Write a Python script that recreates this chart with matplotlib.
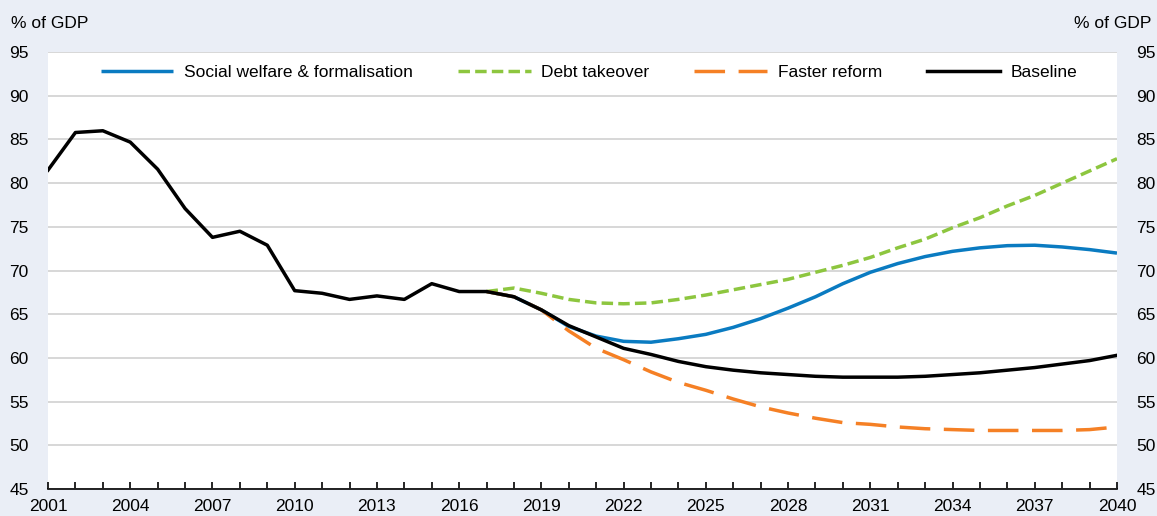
import numpy as np
import matplotlib.pyplot as plt

# ── DATA ───────────────────────────────────────────────
years_hist = list(range(2001, 2041))
baseline = [81.5, 85.8, 86.0, 84.7, 81.6, 77.1, 73.8, 74.5, 72.9, 67.7,
            67.4, 66.7, 67.1, 66.7, 68.5, 67.6, 67.6, 67.0, 65.5, 63.7,
            62.4, 61.1, 60.4, 59.6, 59.0, 58.6, 58.3, 58.1, 57.9, 57.8,
            57.8, 57.8, 57.9, 58.1, 58.3, 58.6, 58.9, 59.3, 59.7, 60.3]

years_scen = list(range(2017, 2041))
social = [67.6, 67.0, 65.5, 63.6, 62.5, 61.9, 61.8, 62.2, 62.7, 63.5,
          64.5, 65.7, 67.0, 68.5, 69.8, 70.8, 71.6, 72.2, 72.6, 72.85,
          72.9, 72.7, 72.4, 72.0]
debt = [67.6, 68.0, 67.4, 66.7, 66.3, 66.2, 66.3, 66.7, 67.2, 67.8,
        68.4, 69.0, 69.8, 70.6, 71.5, 72.6, 73.6, 74.9, 76.05, 77.4,
        78.6, 80.0, 81.4, 82.8]
faster = [67.6, 67.0, 65.5, 63.1, 61.1, 59.8, 58.4, 57.2, 56.3, 55.3,
          54.4, 53.7, 53.1, 52.6, 52.4, 52.1, 51.9, 51.8, 51.7, 51.7,
          51.7, 51.7, 51.8, 52.1]

xticks = list(range(2001, 2041, 3))
yticks = list(range(45, 100, 5))

# ── STYLE ──────────────────────────────────────────────
plt.rcParams["font.family"] = ["Liberation Sans", "DejaVu Sans"]
BG = "#EAEEF6"
BLUE = "#0A7BC1"
GREEN = "#8DC63F"
ORANGE = "#F58025"
FS = 12.5

fig = plt.figure(figsize=(11.57, 5.16), dpi=100, facecolor=BG)
ax = fig.add_axes([0.0415, 0.0523, 0.9239, 0.8467])
ax.set_facecolor("white")

lw = 2.5
ax.plot(years_scen, social, color=BLUE, lw=lw, label="Social welfare & formalisation",
        solid_capstyle="butt")
ax.plot(years_scen, debt, color=GREEN, lw=lw, dashes=(3.3, 1.5), label="Debt takeover")
ax.plot(years_scen, faster, color=ORANGE, lw=lw, dashes=(8.8, 3.9), label="Faster reform")
ax.plot(years_hist, baseline, color="black", lw=lw, label="Baseline")

ax.set_xlim(2001, 2040)
ax.set_ylim(45, 95)
ax.set_yticks(yticks)
ax.set_xticks(xticks)
ax.set_xticks(range(2001, 2041), minor=True)
ax.grid(axis="y", color="#D4D4D4", lw=1.3)
ax.set_axisbelow(True)

for s in ["left", "right", "top"]:
    ax.spines[s].set_visible(False)
ax.spines["bottom"].set_color("black")
ax.spines["bottom"].set_linewidth(1.2)

ax.tick_params(axis="x", which="both", direction="in", length=5, width=1.2,
               labelsize=FS, pad=7, color="black")
ax.tick_params(axis="y", length=0, labelsize=FS, pad=14,
               labelleft=True, labelright=True)

ax.text(-0.035, 1.065, "% of GDP", transform=ax.transAxes, fontsize=FS,
        ha="left", va="center")
ax.text(1.032, 1.065, "% of GDP", transform=ax.transAxes, fontsize=FS,
        ha="right", va="center")

leg = ax.legend(loc="upper center", bbox_to_anchor=(0.506, 1.0), ncol=4,
                frameon=False, fontsize=FS, handlelength=4.2, handletextpad=0.6,
                columnspacing=2.6, borderaxespad=0.35)

fig.savefig("out.png", dpi=100, facecolor=BG)
